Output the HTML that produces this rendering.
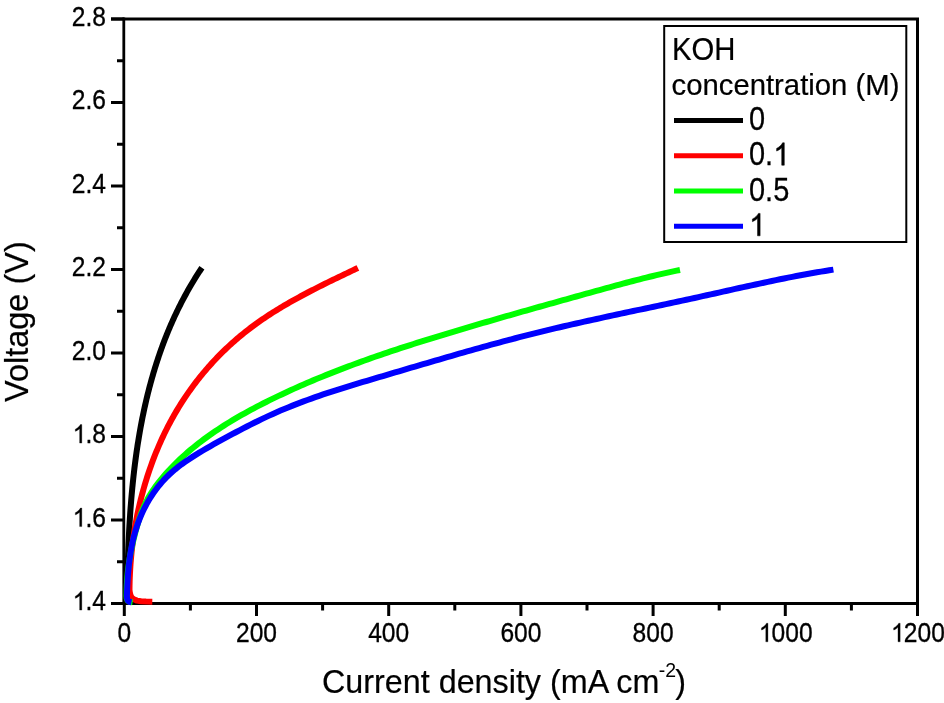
<!DOCTYPE html>
<html><head><meta charset="utf-8"><style>
html,body{margin:0;padding:0;background:#fff;}
svg{display:block;will-change:transform;}
text{font-family:"Liberation Sans",sans-serif;fill:#000;}
.n{font-size:24.6px;stroke:#000;stroke-width:0.3px;}
.l{font-size:29.3px;stroke:#000;stroke-width:0.2px;}
.ln{font-size:29px;stroke:#000;stroke-width:0.25px;}
.t{font-size:32.5px;stroke:#000;stroke-width:0.2px;}
</style></head><body>
<svg width="944" height="703" viewBox="0 0 944 703">
<path d="M123.8 17.5 V603.5" stroke="#000" stroke-width="2.8" fill="none"/>
<path d="M111 19 H919 M917.5 17.5 V616 M111 603.5 H919" stroke="#000" stroke-width="3" fill="none"/>
<path d="M111.0 603.5H124 M117.0 561.8H124 M111.0 520.0H124 M117.0 478.2H124 M111.0 436.5H124 M117.0 394.8H124 M111.0 353.0H124 M117.0 311.2H124 M111.0 269.5H124 M117.0 227.8H124 M111.0 186.0H124 M117.0 144.2H124 M111.0 102.5H124 M117.0 60.7H124 M111.0 19.0H124 M124.3 603.5V616.0 M190.4 603.5V610.5 M256.5 603.5V616.0 M322.6 603.5V610.5 M388.7 603.5V616.0 M454.8 603.5V610.5 M520.9 603.5V616.0 M587.0 603.5V610.5 M653.1 603.5V616.0 M719.2 603.5V610.5 M785.3 603.5V616.0 M851.4 603.5V610.5 M917.5 603.5V616.0" stroke="#000" stroke-width="3" fill="none"/>
<text class="n" transform="translate(71.80,610.10) scale(1,1.11)"> .4</text><path d="M833 0H653V1147C610 1106 553 1064 483 1023C412 982 349 951 292 930V1104C392 1151 480 1208 555 1275C630 1342 683 1407 714 1472H833Z" transform="translate(71.80,610.10) scale(0.01201,-0.01261)" stroke="#000" stroke-width="25.0"/>
<text class="n" transform="translate(71.80,526.60) scale(1,1.11)"> .6</text><path d="M833 0H653V1147C610 1106 553 1064 483 1023C412 982 349 951 292 930V1104C392 1151 480 1208 555 1275C630 1342 683 1407 714 1472H833Z" transform="translate(71.80,526.60) scale(0.01201,-0.01261)" stroke="#000" stroke-width="25.0"/>
<text class="n" transform="translate(71.80,443.10) scale(1,1.11)"> .8</text><path d="M833 0H653V1147C610 1106 553 1064 483 1023C412 982 349 951 292 930V1104C392 1151 480 1208 555 1275C630 1342 683 1407 714 1472H833Z" transform="translate(71.80,443.10) scale(0.01201,-0.01261)" stroke="#000" stroke-width="25.0"/>
<text class="n" transform="translate(71.80,359.60) scale(1,1.11)">2.0</text>
<text class="n" transform="translate(71.80,276.10) scale(1,1.11)">2.2</text>
<text class="n" transform="translate(71.80,192.60) scale(1,1.11)">2.4</text>
<text class="n" transform="translate(71.80,109.10) scale(1,1.11)">2.6</text>
<text class="n" transform="translate(71.80,25.60) scale(1,1.11)">2.8</text>
<text class="n" transform="translate(117.46,641.80) scale(1,1.11)">0</text>
<text class="n" transform="translate(235.98,641.80) scale(1,1.11)">200</text>
<text class="n" transform="translate(368.18,641.80) scale(1,1.11)">400</text>
<text class="n" transform="translate(500.38,641.80) scale(1,1.11)">600</text>
<text class="n" transform="translate(632.58,641.80) scale(1,1.11)">800</text>
<text class="n" transform="translate(757.94,641.80) scale(1,1.11)"> 000</text><path d="M833 0H653V1147C610 1106 553 1064 483 1023C412 982 349 951 292 930V1104C392 1151 480 1208 555 1275C630 1342 683 1407 714 1472H833Z" transform="translate(757.94,641.80) scale(0.01201,-0.01261)" stroke="#000" stroke-width="25.0"/>
<text class="n" transform="translate(890.14,641.80) scale(1,1.11)"> 200</text><path d="M833 0H653V1147C610 1106 553 1064 483 1023C412 982 349 951 292 930V1104C392 1151 480 1208 555 1275C630 1342 683 1407 714 1472H833Z" transform="translate(890.14,641.80) scale(0.01201,-0.01261)" stroke="#000" stroke-width="25.0"/>
<polyline points="201.90,267.78 200.91,269.26 199.93,270.74 198.96,272.23 198.00,273.72 197.04,275.21 196.10,276.71 195.16,278.21 194.23,279.72 193.32,281.23 192.41,282.74 191.50,284.25 190.61,285.77 189.72,287.29 188.85,288.82 187.98,290.35 187.12,291.88 186.26,293.42 185.42,294.96 184.58,296.50 183.76,298.04 182.93,299.59 182.12,301.14 181.32,302.70 180.52,304.26 179.73,305.82 178.95,307.38 178.18,308.95 177.41,310.52 176.66,312.10 175.91,313.67 175.17,315.25 174.43,316.83 173.70,318.42 172.98,320.01 172.27,321.60 171.57,323.19 170.87,324.79 170.18,326.39 169.50,327.99 168.82,329.60 168.15,331.20 167.49,332.81 166.84,334.43 166.19,336.04 165.55,337.66 164.92,339.28 164.30,340.91 163.68,342.53 163.07,344.16 162.46,345.79 161.86,347.43 161.27,349.06 160.69,350.70 160.11,352.34 159.54,353.99 158.97,355.63 158.42,357.28 157.87,358.93 157.32,360.58 156.78,362.24 156.25,363.90 155.73,365.55 155.21,367.22 154.69,368.88 154.19,370.55 153.69,372.21 153.19,373.88 152.71,375.56 152.23,377.23 151.75,378.91 151.28,380.58 150.82,382.26 150.36,383.95 149.91,385.63 149.46,387.32 149.02,389.00 148.59,390.69 148.16,392.38 147.74,394.08 147.32,395.77 146.91,397.47 146.50,399.17 146.10,400.87 145.71,402.57 145.32,404.27 144.94,405.98 144.56,407.68 144.19,409.39 143.82,411.10 143.46,412.81 143.10,414.53 142.75,416.24 142.40,417.96 142.06,419.67 141.73,421.39 141.39,423.11 141.07,424.83 140.75,426.55 140.43,428.28 140.12,430.00 139.81,431.73 139.51,433.46 139.22,435.19 138.92,436.92 138.64,438.65 138.35,440.38 138.08,442.11 137.80,443.85 137.53,445.58 137.27,447.32 137.01,449.06 136.75,450.79 136.50,452.53 136.26,454.27 136.01,456.02 135.78,457.76 135.54,459.50 135.31,461.24 135.09,462.99 134.87,464.73 134.65,466.48 134.43,468.23 134.23,469.97 134.02,471.72 133.82,473.47 133.62,475.22 133.43,476.97 133.24,478.72 133.05,480.47 132.87,482.23 132.69,483.98 132.52,485.73 132.34,487.48 132.18,489.24 132.01,490.99 131.85,492.75 131.69,494.50 131.54,496.26 131.39,498.01 131.24,499.77 131.10,501.52 130.96,503.28 130.82,505.04 130.68,506.79 130.55,508.55 130.42,510.31 130.30,512.06 130.18,513.82 130.06,515.58 129.94,517.34 129.83,519.09 129.72,520.85 129.61,522.61 129.50,524.37 129.40,526.12 129.30,527.88 129.20,529.64 129.11,531.39 129.02,533.15 128.93,534.91 128.84,536.66 128.76,538.42 128.68,540.17 128.60,541.93 128.52,543.68 128.45,545.44 128.37,547.19 128.30,548.95 128.23,550.70 128.17,552.45 128.10,554.21 128.04,555.96 127.98,557.71 127.92,559.46 127.87,561.21 127.81,562.96 127.76,564.71 127.71,566.46 127.66,568.21 127.62,569.95 127.57,571.70 127.53,573.45 127.49,575.19 127.45,576.94 127.41,578.68 127.37,580.42 127.33,582.16 127.30,583.90 127.27,585.64 127.24,587.38 127.21,589.12 127.18,590.86 127.15,592.59 127.12,594.33 127.10,596.06 127.07,597.80 127.05,599.53 127.03,601.26 127.01,602.99" stroke="#000" stroke-width="6" fill="none" stroke-linejoin="round"/>
<polyline points="357.91,267.92 356.01,268.83 354.11,269.73 352.21,270.64 350.30,271.54 348.40,272.45 346.49,273.36 344.58,274.28 342.67,275.19 340.76,276.11 338.85,277.03 336.93,277.95 335.02,278.87 333.11,279.80 331.19,280.73 329.28,281.67 327.37,282.61 325.46,283.55 323.55,284.50 321.64,285.45 319.73,286.40 317.82,287.36 315.92,288.33 314.01,289.30 312.11,290.27 310.21,291.25 308.32,292.24 306.43,293.23 304.54,294.23 302.65,295.24 300.77,296.25 298.89,297.27 297.02,298.29 295.15,299.33 293.28,300.36 291.42,301.41 289.56,302.47 287.71,303.53 285.86,304.60 284.02,305.68 282.19,306.77 280.36,307.86 278.54,308.97 276.72,310.08 274.91,311.20 273.11,312.33 271.31,313.48 269.53,314.63 267.75,315.79 265.97,316.96 264.21,318.15 262.45,319.34 260.70,320.54 258.96,321.76 257.23,322.98 255.51,324.22 253.80,325.47 252.09,326.73 250.40,328.00 248.72,329.29 247.04,330.59 245.38,331.90 243.73,333.22 242.08,334.55 240.45,335.90 238.83,337.25 237.22,338.62 235.62,340.00 234.02,341.40 232.44,342.80 230.88,344.22 229.32,345.64 227.77,347.08 226.23,348.53 224.70,349.99 223.19,351.46 221.68,352.95 220.19,354.44 218.71,355.94 217.24,357.46 215.78,358.99 214.33,360.52 212.89,362.07 211.47,363.63 210.05,365.19 208.65,366.77 207.26,368.36 205.88,369.96 204.51,371.57 203.15,373.18 201.81,374.81 200.48,376.45 199.16,378.10 197.85,379.76 196.55,381.42 195.27,383.10 193.99,384.78 192.73,386.48 191.49,388.18 190.25,389.90 189.03,391.62 187.82,393.35 186.62,395.09 185.43,396.84 184.26,398.60 183.10,400.37 181.95,402.14 180.82,403.93 179.70,405.72 178.59,407.52 177.49,409.33 176.41,411.15 175.34,412.97 174.28,414.81 173.24,416.65 172.20,418.50 171.19,420.35 170.18,422.22 169.19,424.09 168.21,425.97 167.24,427.85 166.29,429.75 165.34,431.65 164.41,433.56 163.50,435.47 162.59,437.39 161.70,439.32 160.83,441.25 159.96,443.19 159.11,445.14 158.27,447.09 157.44,449.05 156.62,451.01 155.82,452.98 155.03,454.95 154.25,456.93 153.49,458.92 152.73,460.91 151.99,462.91 151.26,464.91 150.55,466.92 149.84,468.93 149.15,470.94 148.47,472.96 147.81,474.99 147.15,477.02 146.51,479.05 145.88,481.09 145.26,483.13 144.66,485.18 144.07,487.23 143.49,489.28 142.92,491.34 142.36,493.40 141.81,495.46 141.28,497.53 140.76,499.60 140.25,501.67 139.76,503.75 139.27,505.83 138.80,507.91 138.34,509.99 137.89,512.08 137.45,514.17 137.03,516.26 136.61,518.35 136.21,520.45 135.82,522.55 135.45,524.64 135.08,526.75 134.73,528.85 134.38,530.95 134.05,533.06 133.73,535.16 133.43,537.27 133.13,539.38 132.85,541.49 132.57,543.60 132.31,545.71 132.06,547.82 131.83,549.93 131.60,552.04 131.39,554.16 131.18,556.27 130.99,558.38 130.81,560.49 130.64,562.60 130.48,564.72 130.34,566.83 130.20,568.94 130.08,571.05 129.97,573.16 129.87,575.26 129.78,577.37 129.70,579.48 129.63,581.58 129.58,583.69 129.53,585.79 129.50,587.89 129.47,589.99 129.80,592.50 130.40,595.00 131.60,597.50 133.80,599.30 137.00,600.60 141.00,601.30 146.00,601.60 152.30,601.70" stroke="#ff0000" stroke-width="6" fill="none" stroke-linejoin="round"/>
<polyline points="680.00,269.99 676.61,270.68 673.22,271.39 669.84,272.12 666.46,272.86 663.09,273.62 659.73,274.39 656.36,275.18 653.00,275.98 649.65,276.79 646.30,277.61 642.95,278.45 639.60,279.29 636.26,280.15 632.92,281.01 629.58,281.89 626.24,282.77 622.91,283.65 619.57,284.55 616.24,285.45 612.91,286.36 609.58,287.27 606.25,288.18 602.92,289.10 599.59,290.02 596.26,290.94 592.93,291.87 589.60,292.79 586.27,293.72 582.94,294.64 579.61,295.57 576.28,296.50 572.94,297.43 569.61,298.36 566.28,299.29 562.94,300.22 559.61,301.15 556.27,302.08 552.94,303.02 549.60,303.95 546.27,304.89 542.93,305.83 539.60,306.76 536.26,307.70 532.93,308.65 529.60,309.59 526.26,310.53 522.93,311.48 519.60,312.43 516.26,313.38 512.93,314.33 509.60,315.28 506.27,316.23 502.94,317.19 499.61,318.15 496.28,319.11 492.96,320.07 489.63,321.03 486.30,322.00 482.98,322.96 479.66,323.94 476.33,324.91 473.01,325.88 469.69,326.86 466.38,327.84 463.06,328.82 459.74,329.80 456.43,330.79 453.12,331.78 449.81,332.78 446.50,333.77 443.19,334.77 439.89,335.78 436.58,336.79 433.28,337.80 429.98,338.82 426.68,339.84 423.39,340.87 420.10,341.90 416.81,342.94 413.52,343.99 410.23,345.04 406.95,346.09 403.67,347.15 400.39,348.22 397.12,349.30 393.85,350.38 390.58,351.47 387.31,352.57 384.05,353.68 380.79,354.79 377.54,355.91 374.28,357.04 371.03,358.18 367.79,359.33 364.55,360.48 361.31,361.65 358.07,362.82 354.84,364.01 351.61,365.20 348.39,366.41 345.17,367.62 341.95,368.84 338.74,370.08 335.53,371.33 332.33,372.59 329.13,373.85 325.93,375.14 322.74,376.43 319.55,377.73 316.37,379.05 313.20,380.38 310.02,381.72 306.86,383.08 303.69,384.45 300.53,385.83 297.38,387.22 294.23,388.63 291.09,390.05 287.95,391.49 284.82,392.94 281.69,394.41 278.57,395.89 275.45,397.39 272.34,398.90 269.24,400.43 266.14,401.97 263.05,403.53 259.96,405.11 256.89,406.70 253.82,408.32 250.76,409.95 247.72,411.60 244.68,413.28 241.66,414.97 238.66,416.69 235.67,418.43 232.69,420.19 229.73,421.98 226.78,423.79 223.86,425.63 220.95,427.50 218.07,429.39 215.20,431.30 212.36,433.25 209.53,435.23 206.73,437.23 203.96,439.27 201.21,441.33 198.48,443.43 195.79,445.56 193.12,447.72 190.47,449.92 187.86,452.15 185.28,454.42 182.73,456.72 180.21,459.05 177.72,461.43 175.26,463.84 172.84,466.29 170.46,468.78 168.11,471.31 165.80,473.88 163.53,476.49 161.30,479.15 159.12,481.84 157.00,484.59 154.95,487.38 152.98,490.23 151.09,493.12 149.29,496.07 147.60,499.08 146.01,502.15 144.53,505.27 143.15,508.44 141.86,511.65 140.65,514.90 139.51,518.19 138.45,521.50 137.44,524.83 136.49,528.18 135.57,531.54 134.70,534.90 133.86,538.27 133.07,541.64 132.31,545.02 131.59,548.41 130.91,551.80 130.28,555.19 129.69,558.59 129.15,562.00 128.66,565.41 128.21,568.83 127.82,572.26 127.48,575.70 127.19,579.14 126.96,582.59 126.78,586.05 126.66,589.52 126.60,593.00 126.50,596.00 126.70,598.50 127.50,600.50 129.50,601.80 132.60,602.30" stroke="#00ff00" stroke-width="6" fill="none" stroke-linejoin="round"/>
<polyline points="833.40,269.60 829.27,270.25 825.14,270.92 821.01,271.60 816.89,272.31 812.78,273.03 808.67,273.76 804.56,274.51 800.46,275.28 796.36,276.06 792.27,276.85 788.18,277.66 784.09,278.48 780.00,279.31 775.92,280.15 771.84,280.99 767.76,281.85 763.68,282.72 759.61,283.59 755.54,284.47 751.47,285.36 747.40,286.25 743.33,287.14 739.26,288.04 735.19,288.94 731.12,289.85 727.06,290.75 722.99,291.66 718.92,292.57 714.85,293.47 710.78,294.38 706.71,295.28 702.64,296.18 698.57,297.08 694.50,297.97 690.42,298.86 686.34,299.75 682.26,300.63 678.18,301.50 674.10,302.38 670.02,303.25 665.94,304.12 661.85,304.99 657.77,305.86 653.69,306.72 649.60,307.59 645.51,308.45 641.43,309.32 637.34,310.18 633.26,311.05 629.17,311.92 625.09,312.79 621.00,313.66 616.92,314.53 612.83,315.41 608.75,316.29 604.67,317.17 600.59,318.06 596.51,318.95 592.43,319.85 588.35,320.75 584.28,321.66 580.21,322.57 576.13,323.49 572.06,324.41 568.00,325.34 563.93,326.28 559.87,327.23 555.81,328.19 551.75,329.15 547.69,330.12 543.64,331.10 539.59,332.10 535.54,333.10 531.50,334.11 527.46,335.13 523.42,336.16 519.38,337.20 515.35,338.25 511.32,339.31 507.29,340.37 503.27,341.45 499.24,342.53 495.22,343.62 491.20,344.72 487.18,345.82 483.17,346.93 479.15,348.05 475.14,349.17 471.13,350.30 467.12,351.44 463.11,352.58 459.10,353.72 455.09,354.87 451.09,356.02 447.08,357.18 443.08,358.34 439.07,359.51 435.07,360.68 431.06,361.85 427.06,363.02 423.06,364.20 419.05,365.38 415.05,366.56 411.04,367.74 407.04,368.92 403.03,370.10 399.02,371.29 395.02,372.47 391.01,373.65 387.00,374.84 382.99,376.02 378.98,377.20 374.97,378.39 370.95,379.57 366.94,380.76 362.94,381.95 358.93,383.16 354.93,384.36 350.93,385.58 346.93,386.81 342.95,388.05 338.96,389.30 334.99,390.57 331.02,391.85 327.06,393.15 323.11,394.47 319.17,395.81 315.24,397.17 311.33,398.56 307.42,399.97 303.53,401.40 299.65,402.86 295.79,404.35 291.94,405.87 288.10,407.42 284.29,409.00 280.48,410.61 276.70,412.26 272.93,413.93 269.17,415.64 265.42,417.37 261.69,419.14 257.97,420.93 254.27,422.76 250.57,424.60 246.88,426.48 243.20,428.38 239.52,430.29 235.84,432.23 232.17,434.18 228.49,436.15 224.81,438.14 221.14,440.14 217.47,442.17 213.80,444.21 210.15,446.29 206.51,448.39 202.89,450.52 199.29,452.68 195.71,454.88 192.16,457.13 188.65,459.42 185.19,461.77 181.79,464.19 178.47,466.70 175.22,469.28 172.08,471.97 169.03,474.76 166.10,477.65 163.27,480.65 160.56,483.75 157.95,486.93 155.45,490.21 153.07,493.58 150.80,497.02 148.63,500.54 146.58,504.14 144.65,507.80 142.82,511.53 141.11,515.32 139.52,519.16 138.04,523.06 136.67,527.00 135.42,530.99 134.29,535.02 133.25,539.09 132.32,543.18 131.49,547.30 130.74,551.44 130.08,555.60 129.50,559.77 128.99,563.94 128.55,568.12 128.17,572.30 127.85,576.47 127.57,580.63 127.35,584.78 127.16,588.90 127.01,593.00 126.90,596.00 127.10,598.50 127.80,600.50 129.20,601.80 131.50,602.30" stroke="#0000ff" stroke-width="6" fill="none" stroke-linejoin="round"/>
<rect x="664.2" y="26" width="242.1" height="216" fill="#fff" stroke="#000" stroke-width="2"/>
<text class="l" transform="translate(672,60) scale(1,1.045)">KOH</text>
<text class="l" x="671.5" y="94.7">concentration (M)</text>
<path d="M674 120.5H743" stroke="#000" stroke-width="5"/>
<text class="ln" transform="translate(749.00,130.00) scale(1,1.12)">0</text>
<path d="M674 155.7H743" stroke="#ff0000" stroke-width="5"/>
<text class="ln" transform="translate(749.00,165.20) scale(1,1.12)">0. </text><path d="M833 0H653V1147C610 1106 553 1064 483 1023C412 982 349 951 292 930V1104C392 1151 480 1208 555 1275C630 1342 683 1407 714 1472H833Z" transform="translate(772.49,165.20) scale(0.01416,-0.01522)" stroke="#000" stroke-width="35.3"/>
<path d="M674 191H743" stroke="#00ff00" stroke-width="5"/>
<text class="ln" transform="translate(749.00,200.50) scale(1,1.12)">0.5</text>
<path d="M674 226.3H743" stroke="#0000ff" stroke-width="5"/>
<text class="ln" transform="translate(749.00,235.80) scale(1,1.12)"> </text><path d="M833 0H653V1147C610 1106 553 1064 483 1023C412 982 349 951 292 930V1104C392 1151 480 1208 555 1275C630 1342 683 1407 714 1472H833Z" transform="translate(748.30,235.80) scale(0.01416,-0.01522)" stroke="#000" stroke-width="35.3"/>
<text class="t" x="322" y="693" style="font-size:32.3px">Current density (mA cm</text>
<text x="658.8" y="677" style="font-size:19.5px">-2</text>
<text class="t" x="675.3" y="693" style="font-size:32.3px">)</text>
<text class="t" transform="translate(28,402) rotate(-90)">Voltage (V)</text>
</svg>
</body></html>
